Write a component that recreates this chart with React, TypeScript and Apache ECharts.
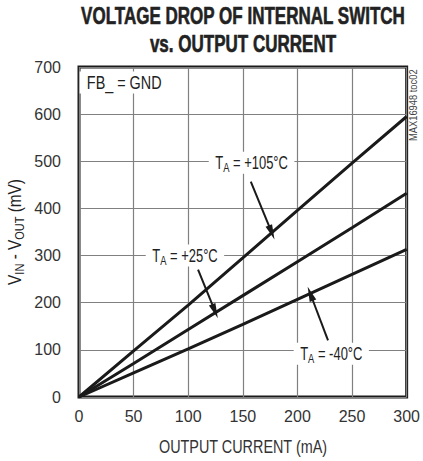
import React, { useEffect, useRef } from "react";
import * as echarts from "echarts";

const currentMA = [0, 50, 100, 150, 200, 250, 300];
const drop105 = [0, 98, 195, 295, 396, 496, 595];
const drop25 = [0, 71, 143, 215, 287, 359, 432];
const dropM40 = [0, 51, 102, 154, 207, 260, 313];
const xTicks = [0, 50, 100, 150, 200, 250, 300];
const yTicks = [0, 100, 200, 300, 400, 500, 600, 700];

const FONT = "'Liberation Sans', Arial, sans-serif";
const INK = "#222";

const rich = {
  t: { fontFamily: FONT, fontSize: 18, fill: INK, color: INK, lineHeight: 22, verticalAlign: "middle" },
  s: { fontFamily: FONT, fontSize: 13, fill: INK, color: INK, lineHeight: 22, verticalAlign: "bottom" },
};

function pts(ys: number[]) {
  return currentMA.map((x, i) => [x, ys[i]]);
}

export default function App() {
  const ref = useRef<HTMLDivElement>(null);
  useEffect(() => {
    if (!ref.current) return;
    const chart = echarts.init(ref.current, null, { renderer: "svg" });
    const arrow = (x1: number, y1: number, x2: number, y2: number) => [
      { coord: [x1, y1], symbol: "none" },
      { coord: [x2, y2], symbol: "triangle", symbolSize: [7, 15] },
    ];
    chart.setOption({
      animation: false,
      backgroundColor: "#fff",
      grid: {
        left: 79,
        right: 14,
        top: 67,
        bottom: 64,
        show: true,
        borderColor: "#1a1a1a",
        borderWidth: 3,
        backgroundColor: "transparent",
      },
      xAxis: {
        type: "value",
        min: xTicks[0],
        max: xTicks[xTicks.length - 1],
        interval: 50,
        axisLine: { show: false },
        axisTick: { show: false },
        axisLabel: { fontFamily: FONT, fontSize: 16, color: "#333", margin: 11 },
        splitLine: { show: true, lineStyle: { color: "#808080", width: 1.2 } },
      },
      yAxis: {
        type: "value",
        min: yTicks[0],
        max: yTicks[yTicks.length - 1],
        interval: 100,
        axisLine: { show: false },
        axisTick: { show: false },
        axisLabel: { fontFamily: FONT, fontSize: 16, color: "#333", margin: 18 },
        splitLine: { show: true, lineStyle: { color: "#808080", width: 1.2 } },
      },
      series: [
        {
          type: "line",
          data: pts(drop105),
          symbol: "none",
          lineStyle: { color: "#1a1a1a", width: 3 },
          z: 5,
          markLine: {
            silent: true,
            z: 10,
            lineStyle: { color: "#1a1a1a", width: 2, type: "solid" },
            label: { show: false },
            data: [
              arrow(157.3, 457, 176.4, 349),
              arrow(109, 270, 124.5, 182),
              arrow(228, 120, 211.8, 219),
            ],
          },
        },
        {
          type: "line",
          data: pts(drop25),
          symbol: "none",
          lineStyle: { color: "#1a1a1a", width: 3 },
          z: 5,
        },
        {
          type: "line",
          data: pts(dropM40),
          symbol: "none",
          lineStyle: { color: "#1a1a1a", width: 3 },
          z: 5,
        },
      ],
    });

    const px = (x: number, y: number) =>
      chart.convertToPixel({ gridIndex: 0 }, [x, y]) as number[];

    const boxLabel = (x: number, y: number, text: string, sx: number) => {
      const p = px(x, y);
      return {
        type: "text",
        x: p[0],
        y: p[1],
        scaleX: sx,
        z: 100,
        style: {
          text,
          rich,
          align: "center",
          verticalAlign: "middle",
          backgroundColor: "#fff",
          padding: [0, 9, 0, 9],
        },
      };
    };

    chart.setOption({
      graphic: [
        {
          type: "text",
          x: 243,
          y: 2,
          scaleX: 0.74,
          style: {
            text: "VOLTAGE DROP OF INTERNAL SWITCH\nvs. OUTPUT CURRENT",
            fontFamily: FONT,
            fontWeight: "bold",
            fontSize: 23,
            lineHeight: 28,
            fill: INK,
            align: "center",
            verticalAlign: "top",
            stroke: INK,
            lineWidth: 0.6,
          },
        },
        {
          type: "text",
          x: 243,
          y: 446,
          scaleX: 0.8,
          style: {
            text: "OUTPUT CURRENT (mA)",
            fontFamily: FONT,
            fontSize: 18,
            fill: "#333",
            align: "center",
            verticalAlign: "middle",
          },
        },
        {
          type: "text",
          x: 15,
          y: 232,
          rotation: Math.PI / 2,
          scaleX: 0.85,
          style: {
            text: "{t|V}{s|IN}{t| - V}{s|OUT}{t| (mV)}",
            rich,
            align: "center",
            verticalAlign: "middle",
          },
        },
        {
          type: "text",
          x: 413,
          y: 141,
          rotation: Math.PI / 2,
          scaleX: 0.85,
          style: {
            text: "MAX16948 toc02",
            fontFamily: FONT,
            fontSize: 11,
            fill: "#444",
            align: "left",
            verticalAlign: "middle",
          },
        },
        boxLabel(158, 497, "{t|T}{s|A}{t| = +105°C}", 0.72),
        boxLabel(97, 300, "{t|T}{s|A}{t| = +25°C}", 0.72),
        boxLabel(231, 92, "{t|T}{s|A}{t| = -40°C}", 0.72),
        boxLabel(41.4, 667, "{t|FB_ = GND}", 0.8),
      ],
    });
    return () => chart.dispose();
  }, []);
  return (
    <div
      ref={ref}
      style={{ position: "fixed", left: 0, top: 0, width: 423, height: 461 }}
    />
  );
}
